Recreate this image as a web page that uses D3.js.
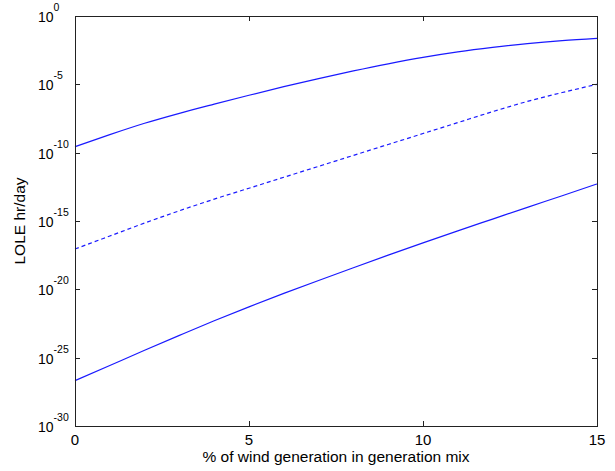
<!DOCTYPE html>
<html>
<head>
<meta charset="utf-8">
<script src="https://cdn.jsdelivr.net/npm/d3@7"></script>
<style>
  html, body { margin: 0; padding: 0; background: #fff; }
  svg text { font-family: "Liberation Sans", Arial, sans-serif; fill: #000; }
</style>
</head>
<body>
<svg id="chart" width="615" height="471"></svg>
<script>
// Wind share of generation mix (%)
const windShare = [0, 1, 2, 3, 4, 5, 6, 7, 8, 9, 10, 11, 12, 13, 14, 15];
// log10 of LOLE (hr/day) for each case
const loleUpperExp  = [-9.56, -8.68, -7.85, -7.12, -6.45, -5.80, -5.17, -4.58, -4.02, -3.50, -3.03, -2.63, -2.30, -2.02, -1.80, -1.63];
const loleMiddleExp = [-17.05, -16.10, -15.15, -14.25, -13.40, -12.60, -11.80, -11.00, -10.20, -9.40, -8.60, -7.80, -7.00, -6.25, -5.60, -5.00];
const loleLowerExp  = [-26.68, -25.57, -24.46, -23.37, -22.30, -21.28, -20.30, -19.35, -18.42, -17.50, -16.60, -15.72, -14.86, -14.00, -13.15, -12.29];
const xTicks = [0, 5, 10, 15];
const yTickExps = [0, -5, -10, -15, -20, -25, -30];

const margin = { left: 75, top: 16, right: 18, bottom: 45 };
const W = 615, H = 471;
const iw = W - margin.left - margin.right;
const ih = H - margin.top - margin.bottom;

const svg = d3.select("#chart");
const g = svg.append("g").attr("transform", `translate(${margin.left},${margin.top})`);

const x = d3.scaleLinear().domain([0, 15]).range([0, iw]);
const y = d3.scaleLog().domain([1e-30, 1]).range([ih, 0]);

// series lines
const series = [
  { exps: loleUpperExp, dash: null },
  { exps: loleMiddleExp, dash: "4,3" },
  { exps: loleLowerExp, dash: null }
];
const line = d3.line()
  .curve(d3.curveMonotoneX)
  .x(d => x(d[0]))
  .y(d => y(Math.pow(10, d[1])));

series.forEach(s => {
  g.append("path")
    .datum(windShare.map((w, i) => [w, s.exps[i]]))
    .attr("fill", "none")
    .attr("stroke", "#1a1aff")
    .attr("stroke-width", 1.2)
    .attr("stroke-dasharray", s.dash)
    .attr("d", line);
});

// box frame
g.append("rect")
  .attr("x", 0.5).attr("y", 0.5)
  .attr("width", iw).attr("height", ih)
  .attr("fill", "none")
  .attr("stroke", "#222")
  .attr("stroke-width", 1);

const tickLen = 5;
// x ticks (bottom and top, pointing inward)
xTicks.forEach(v => {
  const px = Math.round(x(v)) + 0.5;
  g.append("line").attr("x1", px).attr("x2", px).attr("y1", ih).attr("y2", ih - tickLen).attr("stroke", "#222");
  g.append("line").attr("x1", px).attr("x2", px).attr("y1", 0).attr("y2", tickLen).attr("stroke", "#222");
  g.append("text")
    .attr("x", x(v)).attr("y", ih + 19)
    .attr("text-anchor", "middle")
    .attr("font-size", 15)
    .text(v);
});

// y ticks (left and right, pointing inward) with power-of-ten labels
yTickExps.forEach(e => {
  const py = Math.round(y(Math.pow(10, e))) + 0.5;
  g.append("line").attr("x1", 0).attr("x2", tickLen).attr("y1", py).attr("y2", py).attr("stroke", "#222");
  g.append("line").attr("x1", iw).attr("x2", iw - tickLen).attr("y1", py).attr("y2", py).attr("stroke", "#222");
  const t = g.append("text")
    .attr("x", -37).attr("y", y(Math.pow(10, e)) + 6)
    .attr("font-size", 14);
  t.append("tspan").text("10");
  t.append("tspan").attr("dy", -11).attr("font-size", 10.5).text(e);
});

// axis titles
svg.append("text")
  .attr("x", margin.left + iw / 2).attr("y", H - 9)
  .attr("text-anchor", "middle")
  .attr("font-size", 15.5)
  .text("% of wind generation in generation mix");

svg.append("text")
  .attr("transform", `translate(25,${margin.top + ih / 2}) rotate(-90)`)
  .attr("text-anchor", "middle")
  .attr("font-size", 15.5)
  .text("LOLE hr/day");
</script>
</body>
</html>
